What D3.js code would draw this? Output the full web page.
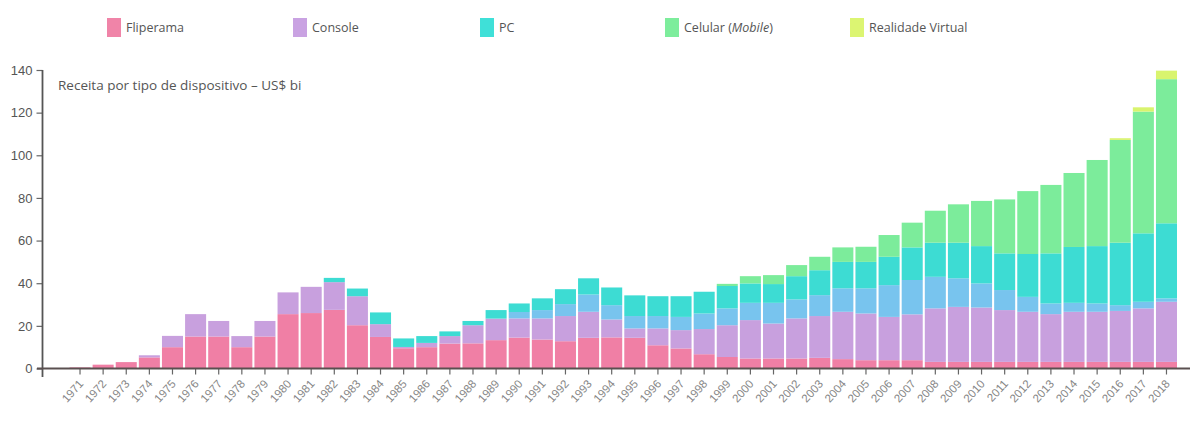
<!DOCTYPE html>
<html>
<head>
<meta charset="utf-8">
<script src="https://cdn.jsdelivr.net/npm/d3@7"></script>
<style>
  body { margin: 0; background: #fff; }
  svg { font-family: "Open Sans", "DejaVu Sans", sans-serif; }
</style>
</head>
<body>
<svg id="chart" width="1193" height="421"></svg>
<script>
var years = d3.range(1971, 2019);

// receita em US$ bi
var fliperama = [0.5,1.8,3,5.2,10,15,15,10,15,25.5,26,27.5,20.3,14.8,9.5,10,11.7,11.8,13.3,14.5,
  13.6,12.8,14.4,14.6,14.4,10.9,9.4,6.7,5.4,4.7,4.7,4.7,5,4.4,3.9,3.9,3.9,3.1,3.1,3.1,
  3.1,3.1,3.1,3.1,3.1,3.1,3.1,3.1];
var console_ = [0,0,0,1,5.3,10.5,7.3,5.2,7.3,10.2,12.3,13,13.6,6,0.6,2,3.5,8.5,10.1,9,
  9.9,11.8,12.2,8.4,4.4,7.9,8.6,11.8,14.9,18,16.4,18.8,19.6,22.2,21.9,20.3,21.5,25.1,25.8,25.5,
  24.3,23.5,22.4,23.5,23.5,23.9,25.1,28.2];
var portatil = [0,0,0,0,0,0,0,0,0,0,0,0,0,0,0,0,0,0,0,3,
  3.9,5.6,8.1,6.7,5.8,5.8,6.2,7.3,7.9,8.1,9.7,8.9,9.8,11,11.8,14.9,16.1,14.8,13.4,11.3,
  9.4,7,5,4.2,3.9,2.7,3.1,1.6];
var pc = [0,0,0,0,0,0,0,0,0,0,0,2,3.6,5.5,4,3.2,2.2,2,4,4,
  5.5,7,7.6,8.3,9.7,9.3,9.7,10.2,10.5,9.1,8.8,10.9,11.7,12.4,12.4,13.3,15.3,16,16.7,17.5,
  17.2,20.1,23.5,26.2,26.9,29.3,32.1,35.2];
var mobile = [0,0,0,0,0,0,0,0,0,0,0,0,0,0,0,0,0,0,0,0,
  0,0,0,0,0,0,0,0,1,3.4,4.2,5.2,6.3,6.8,7.1,10.2,11.6,15,18,21.2,
  25.3,29.5,32.1,34.7,40.4,48.2,57.1,67.6];
var vr = [0,0,0,0,0,0,0,0,0,0,0,0,0,0,0,0,0,0,0,0,
  0,0,0,0,0,0,0,0,0,0,0,0,0,0,0,0,0,0,0,0,
  0,0,0,0,0,0.8,2,4];

var seriesKeys = ["fliperama", "console", "portatil", "pc", "mobile", "vr"];
var seriesColors = ["#f07fa5", "#c8a0de", "#78c4ee", "#3ddcd3", "#7cec9b", "#d9f46e"];

var legendLabels = ["Fliperama", "Console", "PC", "Celular", "Realidade Virtual"];
var legendColors = ["#f084a8", "#c9a2e2", "#3fe0d8", "#7ded9c", "#dcf572"];
var legendX = [107, 293, 480, 665, 850];

var yTicks = [0, 20, 40, 60, 80, 100, 120, 140];

var table = years.map(function(y, i) {
  return {year: y, fliperama: fliperama[i], console: console_[i], portatil: portatil[i],
    pc: pc[i], mobile: mobile[i], vr: vr[i]};
});

var svg = d3.select("#chart");

var x = d3.scaleBand().domain(years).range([69.5, 1177]).paddingInner(0.09).paddingOuter(0);
var y = d3.scaleLinear().domain([0, 140]).range([368.5, 70]);
var color = d3.scaleOrdinal().domain(seriesKeys).range(seriesColors);

var stacked = d3.stack().keys(seriesKeys)(table);

svg.append("g").selectAll("g").data(stacked).enter()
  .append("g")
  .attr("fill", function(d) { return color(d.key); })
  .selectAll("rect").data(function(d) { return d; }).enter()
  .append("rect")
  .attr("x", function(d) { return x(d.data.year); })
  .attr("width", x.bandwidth())
  .attr("y", function(d) { return y(d[1]); })
  .attr("height", function(d) { return Math.max(0, y(d[0]) - y(d[1])); });

// eixo y
var yAxis = d3.axisLeft(y).tickValues(yTicks).tickSize(6).tickSizeOuter(0);
var gy = svg.append("g").attr("transform", "translate(42.5,0)").call(yAxis);
gy.select(".domain").remove();
gy.selectAll(".tick line").attr("stroke", "#666").attr("stroke-width", 1.2);
gy.selectAll(".tick text").attr("fill", "#555").attr("font-size", 13).attr("dx", -1);
svg.append("line").attr("x1", 42.5).attr("x2", 42.5).attr("y1", y(140)).attr("y2", 377)
  .attr("stroke", "#555").attr("stroke-width", 1.8);

// eixo x
var xAxis = d3.axisBottom(x).tickSize(6).tickSizeOuter(0);
var gx = svg.append("g").attr("transform", "translate(0," + y(0) + ")").call(xAxis);
gx.select(".domain").remove();
gx.selectAll(".tick line").attr("stroke", "#666").attr("stroke-width", 1.2);
gx.selectAll(".tick text")
  .attr("fill", "#858585")
  .attr("font-size", 11.5)
  .attr("text-anchor", "end")
  .attr("transform", "translate(1,13) rotate(-48)")
  .attr("dy", "0.35em")
  .attr("x", 0).attr("y", 0);
svg.append("line").attr("x1", 37).attr("x2", 1190).attr("y1", y(0)).attr("y2", y(0))
  .attr("stroke", "#5a5050").attr("stroke-width", 1.8);

// titulo
svg.append("text").attr("x", 58).attr("y", 90)
  .attr("font-size", 13.5).attr("fill", "#555")
  .text("Receita por tipo de dispositivo \u2013 US$ bi");

// legenda
var leg = svg.append("g").selectAll("g").data(legendLabels).enter()
  .append("g")
  .attr("transform", function(d, i) { return "translate(" + legendX[i] + ",18)"; });
leg.append("rect").attr("width", 14).attr("height", 19)
  .attr("fill", function(d, i) { return legendColors[i]; });
var lt = leg.append("text").attr("x", 19).attr("y", 14)
  .attr("font-size", 12.5).attr("fill", "#555")
  .text(function(d) { return d; });
lt.filter(function(d) { return d === "Celular"; })
  .each(function() {
    var t = d3.select(this);
    t.text("Celular (");
    t.append("tspan").attr("font-style", "italic").text("Mobile");
    t.append("tspan").text(")");
  });
</script>
</body>
</html>
